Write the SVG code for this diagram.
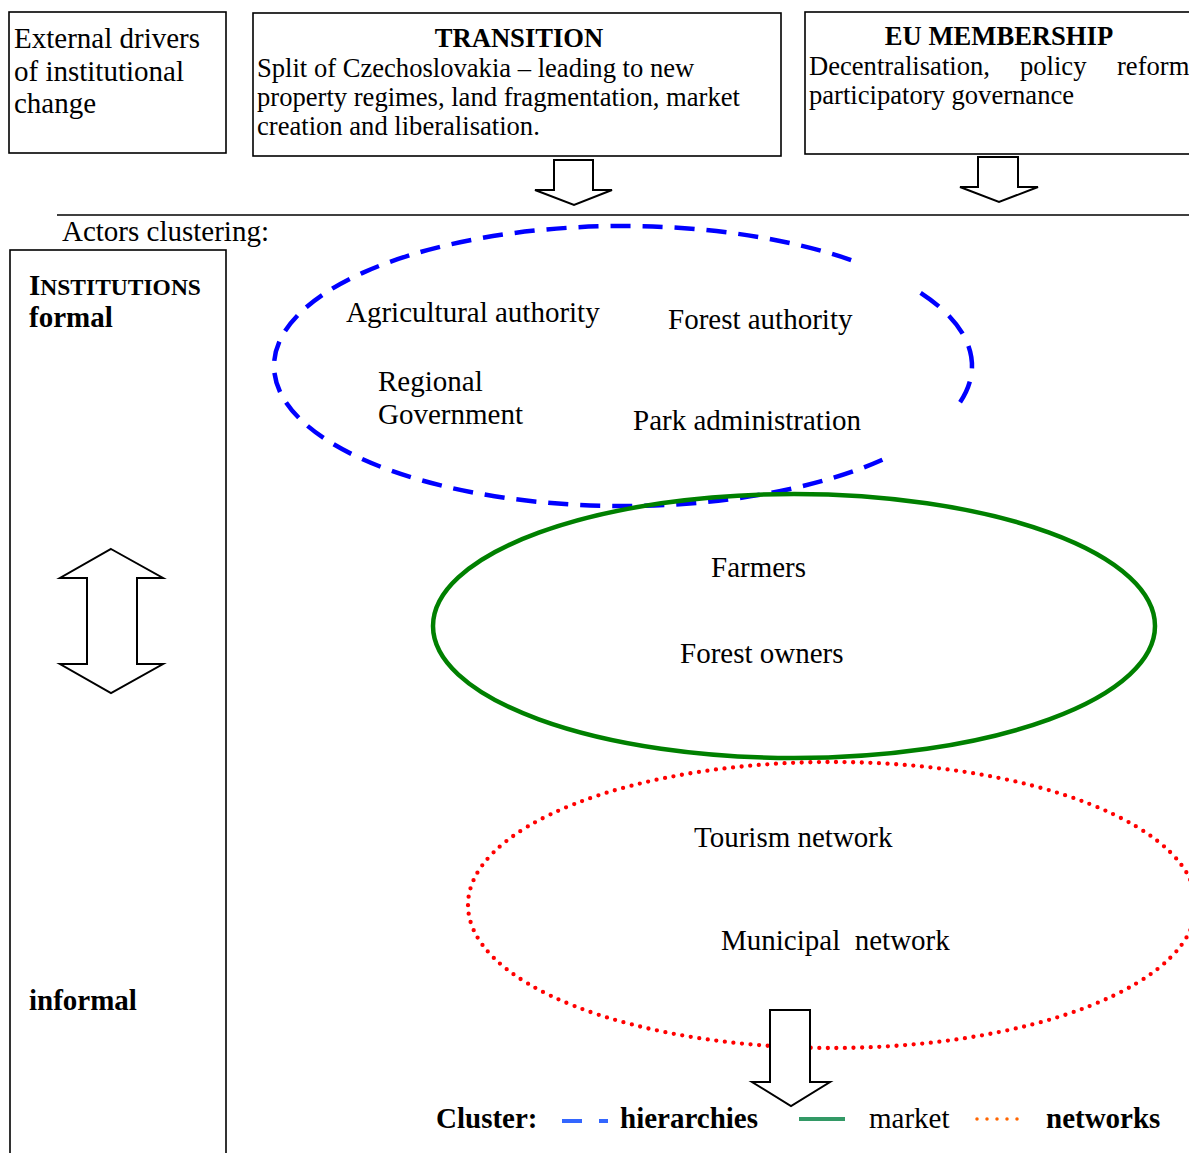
<svg xmlns="http://www.w3.org/2000/svg" width="1189" height="1153" viewBox="0 0 1189 1153">
<style>
text{font-family:"Liberation Serif","Times New Roman",serif;fill:#000}
.t29{font-size:29px}
.t27{font-size:26.6px}
.b{font-weight:bold}
.box{fill:#fff;stroke:#000;stroke-width:1.6}
.arrow{fill:#fff;stroke:#000;stroke-width:2;stroke-linejoin:miter}
.hier{fill:none;stroke:#0000ff;stroke-width:4.5;stroke-dasharray:20 12}
</style>
<rect width="1189" height="1153" fill="#fff"/>

<g id="drivers">
<rect class="box" x="9" y="12" width="217" height="141"/>
<text class="t29" x="14" y="48">External drivers</text>
<text class="t29" x="14" y="81">of institutional</text>
<text class="t29" x="14" y="113">change</text>
</g>

<g id="transition">
<rect class="box" x="253" y="13" width="528" height="143"/>
<text class="t27 b" x="519" y="47" text-anchor="middle">TRANSITION</text>
<text class="t27" x="257" y="77">Split of Czechoslovakia – leading to new</text>
<text class="t27" x="257" y="106">property regimes, land fragmentation, market</text>
<text class="t27" x="257" y="135">creation and liberalisation.</text>
</g>

<g id="eu-membership">
<rect class="box" x="805" y="12" width="392" height="142"/>
<text class="t27 b" x="999" y="45" text-anchor="middle">EU MEMBERSHIP</text>
<text class="t27" x="809" y="75">Decentralisation,</text>
<text class="t27" x="1020" y="75">policy</text>
<text class="t27" x="1117" y="75">reform</text>
<text class="t27" x="809" y="104">participatory governance</text>
</g>

<line x1="57" y1="215" x2="1189" y2="215" stroke="#000" stroke-width="1.3"/>
<text id="actors-label" class="t29" x="62" y="241">Actors clustering:</text>

<g id="institutions">
<rect class="box" x="10" y="250" width="216" height="920"/>
<text class="b" x="29" y="295"><tspan font-size="29">I</tspan><tspan font-size="23.5">NSTITUTIONS</tspan></text>
<text class="t29 b" x="29" y="327">formal</text>
<text class="t29 b" x="29" y="1010">informal</text>
</g>

<g id="hierarchies-cluster">
<path class="hier" pathLength="116" d="M920.6,292.8 A349,140 0 0 1 960.1,402.2"/>
<path class="hier" d="M882.4,459.7 A349,140 0 1 1 853.8,261"/>
<text class="t29" x="346" y="322">Agricultural authority</text>
<text class="t29" x="668" y="329">Forest authority</text>
<text class="t29" x="378" y="391">Regional</text>
<text class="t29" x="378" y="424">Government</text>
<text class="t29" x="633" y="430">Park administration</text>
</g>

<g id="market-cluster">
<ellipse cx="794" cy="626" rx="361" ry="132" fill="none" stroke="#008000" stroke-width="4.5"/>
<text class="t29" x="711" y="577">Farmers</text>
<text class="t29" x="680" y="663">Forest owners</text>
</g>

<g id="networks-cluster">
<ellipse cx="832" cy="905" rx="364" ry="143" fill="none" stroke="#ff0000" stroke-width="4.3" stroke-linecap="round" stroke-dasharray="0 8.6"/>
<text class="t29" x="694" y="847">Tourism network</text>
<text class="t29" x="721" y="950" xml:space="preserve">Municipal  network</text>
</g>

<g id="connectors">
<path class="arrow" d="M554,160 H593 V190 H612 L574,205 L535,190 H554 Z"/>
<path class="arrow" d="M978,157 H1018 V187 H1038 L999,202 L960,187 H978 Z"/>
<path class="arrow" d="M111,549 L163,578 H137 V664 H163 L111,693 L60,664 H87 V578 H60 Z"/>
<path class="arrow" d="M770,1010 H810 V1082 H830 L791,1106 L752,1082 H770 Z"/>
</g>

<g id="legend">
<text class="t29 b" x="436" y="1128">Cluster:</text>
<line x1="562" y1="1121" x2="582" y2="1121" stroke="#3366ff" stroke-width="4"/>
<line x1="599" y1="1121" x2="608" y2="1121" stroke="#3366ff" stroke-width="4"/>
<text class="t29 b" x="620" y="1128">hierarchies</text>
<line x1="799" y1="1119" x2="845" y2="1119" stroke="#339966" stroke-width="4"/>
<text class="t29" x="869" y="1128">market</text>
<line x1="977" y1="1119" x2="1020" y2="1119" stroke="#ff6600" stroke-width="3.5" stroke-linecap="round" stroke-dasharray="0 10"/>
<text class="t29 b" x="1046" y="1128">networks</text>
</g>
</svg>
